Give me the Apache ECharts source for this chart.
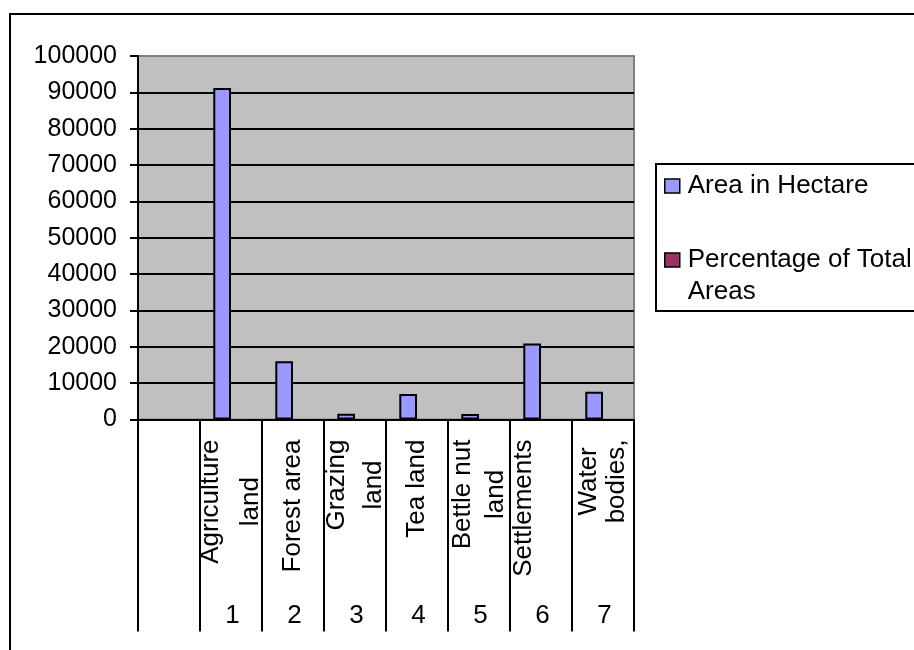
<!DOCTYPE html>
<html>
<head>
<meta charset="utf-8">
<script src="https://cdn.jsdelivr.net/npm/echarts@6/dist/echarts.min.js"></script>
<style>
  html, body { margin: 0; padding: 0; background: #fff; overflow: hidden; }
  #chart { position: absolute; left: 0; top: 0; width: 914px; height: 650px; }
  #frame { position: absolute; left: 9px; top: 13px; width: 1000px; height: 1000px;
           border: 2px solid #000; pointer-events: none; }
</style>
</head>
<body>
<div id="chart"></div>
<div id="frame"></div>
<script>
// Land use categories (first slot is an empty category), wrapped as shown on the axis
const landUse = ['', 'Agriculture\nland', 'Forest area', 'Grazing\nland', 'Tea land',
                 'Bettle nut\nland', 'Settlements\n', 'Water\nbodies,'];
// Serial numbers printed under each category
const serialNo = ['', '1', '2', '3', '4', '5', '6', '7'];
// Area in hectare per land use
const areaHectare = [null, 91200, 16000, 1600, 7000, 1500, 20900, 7600];
// Share of total area (percent)
const percentTotal = [null, 62.6, 11.0, 1.1, 4.8, 1.0, 14.3, 5.2];
// Value axis range
const yMin = 0, yMax = 100000, yStep = 10000;

const FONT = '"Liberation Sans", Arial, sans-serif';
const LABEL_SIZE = 26;

// spacing between the two wrapped lines of each rotated category label
const wrapSpacing = { 1: 40, 3: 37, 5: 33, 6: 34, 7: 28 };
const richStyles = {};
[28, 32, 33, 34, 37, 40].forEach(function (h) {
  richStyles['g' + h] = { lineHeight: h, align: 'center', fontSize: LABEL_SIZE, fontFamily: FONT, color: '#000' };
});

// 11 grid lines: the top one blends into the plot border
const gridLineColors = [];
for (let v = yMin; v <= yMax; v += yStep) gridLineColors.push(v === yMax ? '#808080' : '#000');

const chart = echarts.init(document.getElementById('chart'), null, { renderer: 'canvas' });

chart.setOption({
  animation: false,
  backgroundColor: '#fff',
  textStyle: { fontFamily: FONT, color: '#000' },
  grid: {
    left: 138, right: 280, top: 56, bottom: 230.5,
    show: true, backgroundColor: '#c0c0c0', borderColor: '#808080', borderWidth: 2,
    containLabel: false, outerBoundsMode: 'none'
  },
  legend: {
    orient: 'vertical',
    left: 656, top: 164,
    padding: [6, 40, 3, 8],
    itemGap: 10,
    itemWidth: 15, itemHeight: 14,
    icon: 'rect',
    borderColor: '#000', borderWidth: 2,
    backgroundColor: '#fff',
    itemStyle: { borderColor: '#000', borderWidth: 1.5 },
    textStyle: { fontSize: LABEL_SIZE, fontFamily: FONT, color: '#000', lineHeight: 32, padding: [0, 0, 0, 3] },
    // the wrapped entry keeps its first line level with the marker
    formatter: function (name) {
      return name === 'Percentage of Total Areas' ? ' \nPercentage of Total\nAreas' : name;
    },
    data: ['Area in Hectare', 'Percentage of Total Areas']
  },
  xAxis: [
    {
      type: 'category',
      data: landUse,
      position: 'bottom',
      boundaryGap: true,
      axisLine: { show: true, lineStyle: { color: '#000', width: 2 } },
      axisTick: { show: true, interval: 0, length: 212, alignWithLabel: false,
                  lineStyle: { color: '#000', width: 2 } },
      splitLine: { show: false },
      axisLabel: {
        interval: 0, rotate: 90, margin: 20,
        fontSize: LABEL_SIZE, fontFamily: FONT, color: '#000',
        formatter: function (value, idx) {
          if (!value) return '';
          const key = 'g' + (wrapSpacing[idx] || 32);
          return value.split('\n').map(function (s) {
            return '{' + key + '|' + (s || ' ') + '}';
          }).join('\n');
        },
        rich: richStyles
      }
    },
    {
      type: 'category',
      data: serialNo,
      position: 'bottom',
      boundaryGap: true,
      axisLine: { show: false },
      axisTick: { show: false },
      splitLine: { show: false },
      axisLabel: { interval: 0, margin: 183, fontSize: LABEL_SIZE, fontFamily: FONT, color: '#000',
                   padding: [0, 0, 0, 3] }
    }
  ],
  yAxis: {
    type: 'value',
    min: yMin, max: yMax, interval: yStep,
    axisLine: { show: true, lineStyle: { color: '#000', width: 2 } },
    axisTick: { show: true, length: 8, inside: false, lineStyle: { color: '#000', width: 2 } },
    axisLabel: { margin: 21, fontSize: 25, fontFamily: FONT, color: '#000',
                 formatter: function (v) { return String(v); } },
    splitLine: { show: true, lineStyle: { color: gridLineColors, width: 2 } }
  },
  series: [
    {
      name: 'Area in Hectare',
      type: 'bar',
      xAxisIndex: 0,
      data: areaHectare,
      barGap: '0%',
      barCategoryGap: '42.86%',
      itemStyle: { color: '#9999ff', borderColor: '#000', borderWidth: 2 },
      emphasis: { disabled: true }
    },
    {
      name: 'Percentage of Total Areas',
      type: 'bar',
      xAxisIndex: 0,
      data: percentTotal,
      barGap: '0%',
      barCategoryGap: '42.86%',
      itemStyle: { color: '#993366', borderWidth: 0 },
      emphasis: { disabled: true }
    }
  ]
});
</script>
</body>
</html>
